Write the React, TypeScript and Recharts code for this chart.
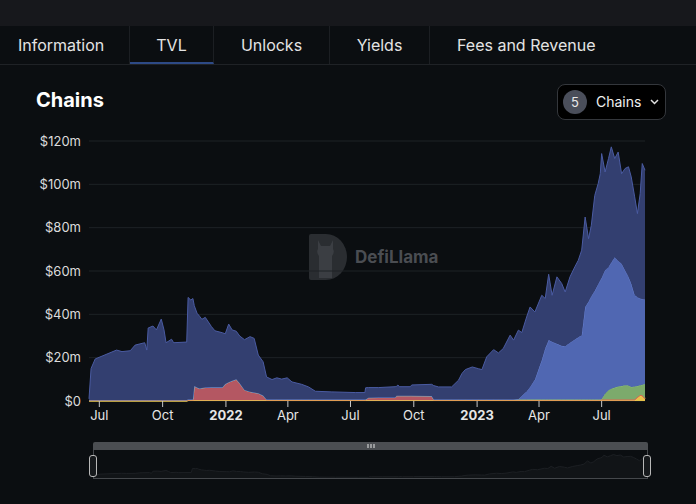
import React from "react";
import { AreaChart, Area, XAxis, YAxis, CartesianGrid } from "recharts";

// daily snapshots (values in $m)
const dates = [
  "2021-06-16", "2021-06-19", "2021-06-25", "2021-07-26", "2021-08-03", "2021-08-15", "2021-08-22", "2021-09-05", "2021-09-08", "2021-09-10",
  "2021-09-17", "2021-09-22", "2021-09-29", "2021-10-03", "2021-10-06", "2021-10-14", "2021-10-17", "2021-11-05", "2021-11-07", "2021-11-11",
  "2021-11-14", "2021-11-16", "2021-11-20", "2021-11-24", "2021-11-27", "2021-12-02", "2021-12-11", "2021-12-16", "2021-12-27", "2021-12-31",
  "2022-01-05", "2022-01-10", "2022-01-16", "2022-01-21", "2022-01-28", "2022-02-05", "2022-02-11", "2022-02-17", "2022-02-24", "2022-03-01",
  "2022-03-09", "2022-03-16", "2022-03-23", "2022-03-31", "2022-04-07", "2022-04-21", "2022-05-01", "2022-05-11", "2022-06-04", "2022-07-08",
  "2022-07-22", "2022-07-23", "2022-07-27", "2022-08-11", "2022-09-04", "2022-09-06", "2022-09-08", "2022-09-10", "2022-09-26", "2022-09-28",
  "2022-10-27", "2022-10-30", "2022-11-06", "2022-11-25", "2022-12-05", "2022-12-10", "2022-12-15", "2022-12-25", "2023-01-03", "2023-01-08",
  "2023-01-15", "2023-01-25", "2023-02-01", "2023-02-08", "2023-02-18", "2023-02-23", "2023-03-02", "2023-03-07", "2023-03-14", "2023-03-19",
  "2023-03-26", "2023-04-05", "2023-04-10", "2023-04-15", "2023-04-20", "2023-04-27", "2023-05-04", "2023-05-09", "2023-05-16", "2023-05-23",
  "2023-05-28", "2023-06-02", "2023-06-07", "2023-06-12", "2023-06-16", "2023-06-21", "2023-06-26", "2023-06-29", "2023-07-01", "2023-07-06",
  "2023-07-11", "2023-07-15", "2023-07-20", "2023-07-25", "2023-07-30", "2023-08-04", "2023-08-09", "2023-08-13", "2023-08-18", "2023-08-22",
  "2023-08-26", "2023-08-29", "2023-09-02",
];

const yellowTvl = [
  0, 0, 0, 0, 0, 0, 0, 0, 0, 0,
  0, 0, 0, 0, 0, 0, 0, 0, 0.3, 0.3,
  0.3, 0.3, 0.3, 0.3, 0.3, 0.3, 0.3, 0.3, 0.3, 0.3,
  0.3, 0.3, 0.3, 0.3, 0.3, 0.3, 0.3, 0.3, 0.3, 0.3,
  0.3, 0.3, 0.3, 0.3, 0.3, 0.3, 0.3, 0.3, 0.3, 0.3,
  0.3, 0.3, 0.3, 0.3, 0.3, 0.3, 0.3, 0.3, 0.3, 0.3,
  0.3, 0.3, 0.3, 0.3, 0.3, 0.3, 0.3, 0.3, 0.3, 0.3,
  0.3, 0.3, 0.3, 0.3, 0.3, 0.3, 0.3, 0.3, 0.3, 0.3,
  0.3, 0.3, 0.3, 0.3, 0.3, 0.3, 0.3, 0.3, 0.3, 0.3,
  0.3, 0.3, 0.3, 0.3, 0.3, 0.3, 0.3, 0.3, 0.3, 0.3,
  0.3, 0.3, 0.3, 0.3, 0.3, 0.3, 0.3, 0.3, 0.3, 1.5,
  2.4, 2.2, 0.8,
];

const redTvl = [
  0.5, 0.5, 0.5, 0.5, 0.5, 0.5, 0.5, 0.5, 0.5, 0.5,
  0.5, 0.5, 0.5, 0.5, 0.5, 0.5, 0.5, 0.5, 0.4, 0.4,
  0.4, 6.6, 5.9, 5.5, 5.7, 5.9, 6.0, 6.0, 6.0, 7.5,
  8.4, 9.0, 9.7, 7.9, 4.8, 4.0, 3.6, 3.3, 2.2, 0.4,
  0.4, 0.4, 0.4, 0.4, 0.4, 0.4, 0.4, 0.4, 0.4, 0.4,
  0.4, 0.4, 1.2, 1.3, 1.3, 2.1, 2.1, 2.1, 2.1, 2.1,
  2.0, 0.4, 0.4, 0.4, 0.4, 0.4, 0.4, 0.4, 0.4, 0.4,
  0.4, 0.4, 0.4, 0.4, 0.4, 0.4, 0.4, 0.4, 0.4, 0.4,
  0.4, 0.4, 0.4, 0.4, 0.4, 0.4, 0.4, 0.4, 0.4, 0.4,
  0.4, 0.4, 0.4, 0.4, 0.4, 0.4, 0.4, 0.4, 0.4, 0.4,
  0.4, 0.4, 0.4, 0.4, 0.4, 0.4, 0.4, 0.4, 0.4, 0.4,
  0.4, 0.4, 0.4,
];

const greenTvl = [
  0, 0, 0, 0, 0, 0, 0, 0, 0, 0,
  0, 0, 0, 0, 0, 0, 0, 0, 0, 0,
  0, 0, 0, 0, 0, 0, 0, 0, 0, 0,
  0, 0, 0, 0, 0, 0, 0, 0, 0, 0,
  0, 0, 0, 0, 0, 0, 0, 0, 0, 0,
  0, 0, 0, 0, 0, 0, 0, 0, 0, 0,
  0, 0, 0, 0, 0, 0, 0, 0, 0, 0,
  0, 0, 0, 0, 0, 0, 0, 0, 0, 0,
  0, 0, 0, 0, 0, 0, 0, 0, 0, 0,
  0, 0, 0, 0, 0, 0, 0, 0, 0.2, 2.7,
  4.3, 5.0, 5.5, 6.0, 6.2, 6.6, 6.4, 5.8, 6.0, 5.0,
  4.5, 4.9, 6.7,
];

const lightBlueTvl = [
  0, 0, 0, 0, 0, 0, 0, 0, 0, 0,
  0, 0, 0, 0, 0, 0, 0, 0, 0, 0,
  0, 0, 0, 0, 0, 0, 0, 0, 0, 0,
  0, 0, 0, 0, 0, 0, 0, 0, 0, 0,
  0, 0, 0, 0, 0, 0, 0, 0, 0, 0,
  0, 0, 0, 0, 0, 0, 0, 0, 0, 0,
  0, 0, 0, 0, 0, 0, 0, 0, 0, 0,
  0, 0, 0, 0, 0, 0, 0.2, 1.7, 3.7, 5.8,
  9.2, 18.2, 23.7, 27.4, 26.7, 25.7, 24.8, 24.6, 26.2, 27.7,
  28.7, 29.7, 42.7, 45.2, 47.7, 50.2, 53.2, 55, 56, 57,
  56.9, 58.2, 60.2, 58, 56.5, 53.1, 50.3, 47.7, 42.2, 41,
  40, 39.6, 39,
];

const darkBlueTvl = [
  0.5, 14.5, 18.9, 23, 22.3, 22.7, 25.3, 26.4, 23, 33.2,
  34.1, 32.3, 37.3, 32.3, 26.4, 28, 26.4, 26.7, 47.1, 45.9,
  46.6, 37.1, 34.3, 33.2, 31.7, 32.4, 28, 26.1, 25.2, 23.2,
  26.8, 23.5, 22.2, 21.8, 23.2, 25.4, 25, 17.6, 15.6, 10.4,
  9.2, 10, 9.4, 10, 8.1, 7, 5.8, 3.8, 3.5, 3.2,
  3.2, 5.4, 4.7, 4.6, 5.0, 4.4, 5.0, 4.2, 4.2, 5.0,
  5.4, 6.4, 5.8, 5.8, 8.9, 12, 13.8, 15, 14.2, 13.8,
  19.7, 23, 21.5, 23.5, 29.7, 27.4, 31.8, 29.2, 34.4, 36.9,
  31.2, 29.9, 22.9, 30.4, 21.4, 30.9, 28.7, 25, 30.4, 33.5,
  35.5, 39.2, 41.5, 29, 32.7, 44, 46.5, 49.2, 57.3, 45.3,
  50, 53.4, 45.5, 50.2, 41.5, 46.9, 50.7, 49.2, 45.3, 38.6,
  48.4, 62.5, 59.6,
];

const xTickDates = ["2021-07-01", "2021-10-01", "2022-01-01", "2022-04-01", "2022-07-01", "2022-10-01", "2023-01-01", "2023-04-01", "2023-07-01"];
const xTickLabels = ["Jul", "Oct", "2022", "Apr", "Jul", "Oct", "2023", "Apr", "Jul"];
const yTicks = [0, 20, 40, 60, 80, 100, 120];

const tabs = ["Information", "TVL", "Unlocks", "Yields", "Fees and Revenue"];

const data = dates.map((d, i) => ({
  t: Date.parse(d),
  yellow: yellowTvl[i],
  red: redTvl[i],
  green: greenTvl[i],
  lightBlue: lightBlueTvl[i],
  darkBlue: darkBlueTvl[i],
  total: yellowTvl[i] + redTvl[i] + greenTvl[i] + lightBlueTvl[i] + darkBlueTvl[i],
}));

const xTicks = xTickDates.map((d) => Date.parse(d));
const FONT = "Inter, 'Noto Sans', sans-serif";

const XTick = (props: any) => {
  const { x, y, payload } = props;
  const idx = xTicks.indexOf(payload.value);
  const label = xTickLabels[idx] ?? "";
  const isYear = /^\d{4}$/.test(label);
  return (
    <text x={x} y={y} dy="0.71em" textAnchor="middle" fill="#e6e6e6" fontSize={13} fontWeight={isYear ? 700 : 400} fontFamily={FONT}>
      {label}
    </text>
  );
};

const tabPos = [
  { left: 0, width: 130 },
  { left: 130, width: 84 },
  { left: 214, width: 116 },
  { left: 330, width: 100 },
  { left: 430, width: 190 },
];

export default function App() {
  return (
    <div style={{ position: "fixed", left: 0, top: 0, width: 696, height: 504, background: "#0b0e11", fontFamily: FONT, overflow: "hidden" }}>
      <div style={{ position: "absolute", left: 0, top: 0, width: 696, height: 26, background: "#17181c" }} />
      {/* tabs */}
      <div style={{ position: "absolute", left: 0, top: 26, width: 696, height: 38, borderBottom: "1px solid #1f2226" }}>
        {tabs.map((t, i) => (
          <div
            key={t}
            style={{
              position: "absolute",
              left: tabPos[i].left,
              top: 0,
              width: tabPos[i].width,
              height: 38,
              borderRight: i < 4 ? "1px solid #1c1f23" : "none",
              borderBottom: i === 1 ? "2px solid #2d4a86" : "none",
              boxSizing: "border-box",
              color: "#e4e4e4",
              fontSize: 16,
              lineHeight: "38px",
              textAlign: i === 0 || i === 4 ? "left" : "center",
              paddingLeft: i === 0 ? 18 : i === 4 ? 27 : 0,
            }}
          >
            {t}
          </div>
        ))}
      </div>

      <div style={{ position: "absolute", left: 36, top: 86, color: "#ffffff", fontSize: 20, fontWeight: 700, lineHeight: "28px" }}>Chains</div>

      {/* chain selector */}
      <div
        style={{
          position: "absolute",
          left: 557,
          top: 84,
          width: 109,
          height: 36,
          boxSizing: "border-box",
          border: "1px solid #34373c",
          borderRadius: 8,
          background: "#000000",
        }}
      >
        <div
          style={{
            position: "absolute",
            left: 5,
            top: 5,
            width: 24,
            height: 24,
            borderRadius: 12,
            background: "#4a4e5a",
            color: "#e8e8e8",
            fontSize: 13,
            lineHeight: "24px",
            textAlign: "center",
          }}
        >
          5
        </div>
        <div style={{ position: "absolute", left: 38, top: 0, lineHeight: "34px", fontSize: 14, color: "#f0f0f0" }}>Chains</div>
        <svg style={{ position: "absolute", left: 92, top: 13 }} width={9} height={8}>
          <path d="M1 2 L4.5 5.5 L8 2" stroke="#e0e0e0" strokeWidth={1.5} fill="none" />
        </svg>
      </div>

      {/* watermark */}
      <svg style={{ position: "absolute", left: 306, top: 232 }} width={140} height={50}>
        <path d="M3 4 Q3 2 5 2 L20 2 A21 23 0 0 1 20 48 L5 48 Q3 48 3 46 Z" fill="#2a2d31" />
        <path d="M12 8 L15 14 L24 14 L27 8 L27 17 Q29 20 26 24 L26 46 L13 46 L13 24 Q10 20 12 17 Z" fill="#3b3e43" />
        <text x={49} y={31} fill="#4a4d52" fontSize={17} fontWeight={700} fontFamily={FONT}>DefiLlama</text>
      </svg>

      {/* main chart */}
      <div style={{ position: "absolute", left: 0, top: 120 }}>
        <AreaChart width={696} height={312} data={data} margin={{ top: 21, right: 51, bottom: 0, left: 0 }}>
          <CartesianGrid vertical={false} stroke="#1e2226" />
          <XAxis
            dataKey="t"
            type="number"
            scale="time"
            domain={[data[0].t, data[data.length - 1].t]}
            ticks={xTicks}
            tick={<XTick />}
            tickLine={{ stroke: "#c8c8c8" }}
            tickSize={6}
            tickMargin={4}
            axisLine={false}
            height={31}
            interval={0}
          />
          <YAxis
            domain={[0, 120]}
            ticks={yTicks}
            tickFormatter={(v) => `$${v}${v === 0 ? "" : "m"}`}
            tick={{ fill: "#dcdcdc", fontSize: 13, fontFamily: FONT }}
            tickLine={false}
            axisLine={false}
            width={89}
            interval={0}
          />
          <Area type="linear" dataKey="yellow" stackId="a" fill="#e6c14a" fillOpacity={1} stroke="#f0cc50" strokeWidth={1.5} isAnimationActive={false} dot={false} activeDot={false} />
          <Area type="linear" dataKey="red" stackId="a" fill="#b45762" fillOpacity={1} stroke="#e0654f" strokeWidth={1.5} isAnimationActive={false} dot={false} activeDot={false} />
          <Area type="linear" dataKey="green" stackId="a" fill="#7caa6c" fillOpacity={1} stroke="#8cc47a" strokeWidth={1} isAnimationActive={false} dot={false} activeDot={false} />
          <Area type="linear" dataKey="lightBlue" stackId="a" fill="#5067b2" fillOpacity={1} stroke="#6a84d6" strokeWidth={1} isAnimationActive={false} dot={false} activeDot={false} />
          <Area type="linear" dataKey="darkBlue" stackId="a" fill="#333f70" fillOpacity={1} stroke="#4a5ba2" strokeWidth={1} isAnimationActive={false} dot={false} activeDot={false} />
        </AreaChart>
      </div>

      {/* zoom slider */}
      <div style={{ position: "absolute", left: 93, top: 442, width: 555, height: 8, background: "#4b4e52", borderRadius: "2px 2px 0 0" }}>
        <svg style={{ position: "absolute", left: 274, top: 2 }} width={8} height={4}>
          <rect x={0.5} y={0} width={1} height={4} fill="#e8e8e8" />
          <rect x={3.5} y={0} width={1} height={4} fill="#e8e8e8" />
          <rect x={6.5} y={0} width={1} height={4} fill="#e8e8e8" />
        </svg>
      </div>
      <div style={{ position: "absolute", left: 93, top: 450, width: 555, height: 29, boxSizing: "border-box", border: "1px solid #45484c", borderTop: "none", background: "#0b0e11" }}>
        <AreaChart width={553} height={28} data={data} margin={{ top: 4, right: 0, bottom: 0, left: 0 }}>
          <XAxis dataKey="t" type="number" scale="time" domain={[data[0].t, data[data.length - 1].t]} hide />
          <YAxis domain={[0, 120]} hide />
          <Area type="linear" dataKey="total" fill="#111417" fillOpacity={1} stroke="#1c1f23" strokeWidth={1} isAnimationActive={false} dot={false} activeDot={false} />
        </AreaChart>
      </div>
      <div style={{ position: "absolute", left: 89, top: 455, width: 8, height: 22, boxSizing: "border-box", border: "1px solid #b8b8b8", borderRadius: 3, background: "#16191c" }} />
      <div style={{ position: "absolute", left: 643, top: 455, width: 8, height: 22, boxSizing: "border-box", border: "1px solid #b8b8b8", borderRadius: 3, background: "#16191c" }} />
    </div>
  );
}
